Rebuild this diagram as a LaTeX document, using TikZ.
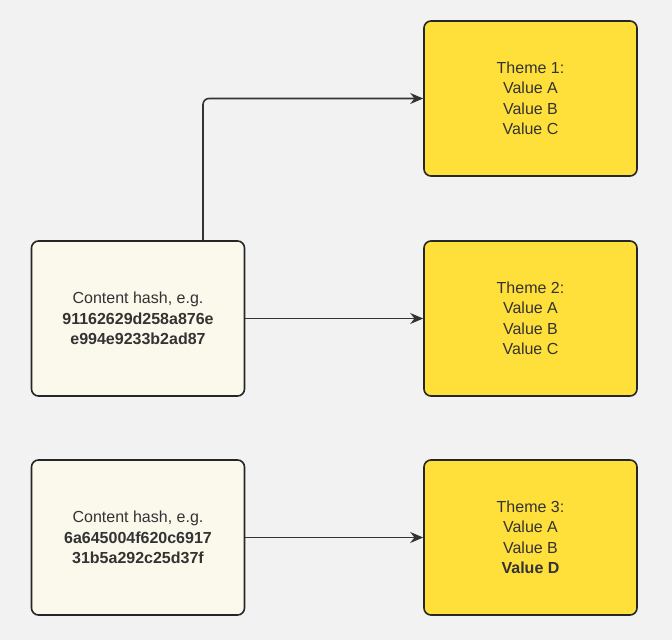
\documentclass[tikz,border=0pt]{standalone}
\usepackage{fontspec}
\setmainfont{Liberation Sans}
\usetikzlibrary{arrows.meta}
\definecolor{bg}{HTML}{F2F2F2}
\definecolor{cream}{HTML}{FBF8EC}
\definecolor{yel}{HTML}{FFDF3A}
\definecolor{txt}{HTML}{333333}
\begin{document}
\begin{tikzpicture}[x=1pt,y=-1pt,
  box/.style={draw=black!85,line width=1.6pt,rounded corners=7pt,minimum width=213pt,minimum height=155pt,align=center,text=txt,font=\fontsize{16}{20.5}\selectfont},
  lbox/.style={box,fill=cream},
  rbox/.style={box,fill=yel},
  arr/.style={draw=black!80,line width=1.6pt,-{Stealth[length=13pt,width=11pt]}}]
\fill[bg] (0,0) rectangle (672,640);
\useasboundingbox (0,0) rectangle (672,640);
\node[lbox] (h1) at (138,318.5) {Content hash, e.g.\\\textbf{91162629d258a876e}\\\textbf{e994e9233b2ad87}};
\node[lbox] (h2) at (138,537.5) {Content hash, e.g.\\\textbf{6a645004f620c6917}\\\textbf{31b5a292c25d37f}};
\node[rbox] (t1) at (530.5,98.5) {Theme 1:\\Value A\\Value B\\Value C};
\node[rbox] (t2) at (530.5,318.5) {Theme 2:\\Value A\\Value B\\Value C};
\node[rbox] (t3) at (530.5,537.5) {Theme 3:\\Value A\\Value B\\\textbf{Value D}};
\draw[arr,rounded corners=6pt] (h1.north -| 203,0) |- (t1.west);
\draw[arr] (h1) -- (t2);
\draw[arr] (h2) -- (t3);
\end{tikzpicture}
\end{document}
